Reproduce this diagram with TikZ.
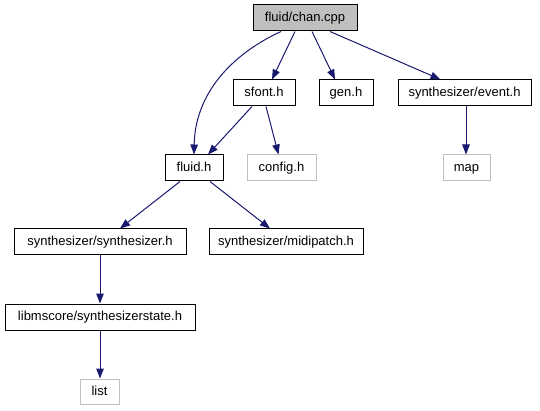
\documentclass[tikz,border=0pt]{standalone}
\usepackage{fontspec}
\setmainfont{Liberation Sans}
\usetikzlibrary{arrows.meta}
\definecolor{edgeblue}{HTML}{191970}
\definecolor{boxgray}{HTML}{BFBFBF}
\begin{document}
\begin{tikzpicture}[x=1pt,y=-1pt,
  box/.style={draw=black,line width=1pt,fill=white,inner sep=0pt,font=\fontsize{13}{15}\selectfont,text height=9.5pt,text depth=2.5pt},
  ext/.style={box,draw=boxgray},
  edge/.style={draw=edgeblue,line width=1pt,-{Triangle[length=10pt,width=7.5pt]}}]
\useasboundingbox (0,0) rectangle (540,411);
\node[box,fill=boxgray,minimum width=104pt,minimum height=26pt] (chan) at (305,18) {fluid/chan.cpp};
\node[box,minimum width=62pt,minimum height=26pt] (sfont) at (264,93) {sfont.h};
\node[box,minimum width=54pt,minimum height=26pt] (gen) at (346,93) {gen.h};
\node[box,minimum width=133pt,minimum height=26pt] (event) at (464.5,93) {synthesizer/event.h};
\node[box,minimum width=58pt,minimum height=26pt] (fluid) at (194,168) {fluid.h};
\node[ext,minimum width=69pt,minimum height=26pt] (config) at (281.5,168) {config.h};
\node[ext,minimum width=47pt,minimum height=26pt] (map) at (466.5,168) {map};
\node[box,minimum width=172pt,minimum height=26pt] (synth) at (100,242) {synthesizer/synthesizer.h};
\node[box,minimum width=154pt,minimum height=26pt] (midi) at (286,242) {synthesizer/midipatch.h};
\node[box,minimum width=190pt,minimum height=26pt] (state) at (100,317) {libmscore/synthesizerstate.h};
\node[ext,minimum width=39pt,minimum height=25pt] (list) at (99.5,391.5) {list};
\draw[edge] ([xshift=-24pt]chan.south) .. controls (230,55) and (195,95) .. (fluid.north);
\draw[edge] ([xshift=-10pt]chan.south) -- ([xshift=8pt]sfont.north);
\draw[edge] ([xshift=7pt]chan.south) -- ([xshift=-11pt]gen.north);
\draw[edge] ([xshift=25pt]chan.south) -- ([xshift=-24pt]event.north);
\draw[edge] ([xshift=-12pt]sfont.south) -- ([xshift=14pt]fluid.north);
\draw[edge] ([xshift=2pt]sfont.south) -- ([xshift=-3pt]config.north);
\draw[edge] ([xshift=1.5pt]event.south) -- ([xshift=-0.5pt]map.north);
\draw[edge] ([xshift=-14pt]fluid.south) -- ([xshift=20pt]synth.north);
\draw[edge] ([xshift=16pt]fluid.south) -- ([xshift=-16pt]midi.north);
\draw[edge] (synth.south) -- (state.north);
\draw[edge] (state.south) -- ([xshift=0.5pt]list.north);
\end{tikzpicture}
\end{document}
